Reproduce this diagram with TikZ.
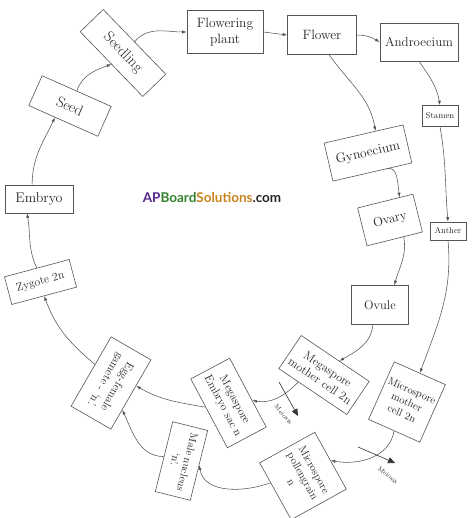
\documentclass[tikz,border=0pt]{standalone}
\usepackage{fontspec}
\newfontfamily\wmfont{Lato}
\usetikzlibrary{arrows.meta,calc}
\definecolor{lc}{RGB}{85,85,85}
\definecolor{wmpurple}{RGB}{88,40,140}
\definecolor{wmgreen}{RGB}{52,130,46}
\definecolor{wmorange}{RGB}{200,132,30}
\begin{document}
\begin{tikzpicture}[x=1pt,y=1pt,
 box/.style={draw=lc,line width=0.6pt,fill=white,inner sep=0pt,align=center,text=black!85},
 conn/.style={draw=lc,line width=0.55pt,-{Latex[length=4.5pt,width=3.2pt]}},
 meio/.style={draw=black!80,line width=0.6pt,-{Triangle[length=7pt,width=6pt]}},
 meiolabel/.style={inner sep=0pt,text=black!85,font=\fontsize{6.5}{7}\selectfont},
]
\useasboundingbox (0,0) rectangle (474,-518);
\fill[white] (0,0) rectangle (474,-518);

% nodes
\node[box,minimum width=76,minimum height=43,font=\fontsize{13.5}{15.5}\selectfont] (flowering) at (225,-32) {Flowering\\plant};
\node[box,minimum width=69,minimum height=39,font=\fontsize{13.5}{15.5}\selectfont] (flower) at (322,-35) {Flower};
\node[box,minimum width=78,minimum height=38,font=\fontsize{13}{15}\selectfont] (andro) at (419,-42) {Androecium};
\node[box,minimum width=36,minimum height=21,font=\fontsize{8.5}{10}\selectfont] (stamen) at (440,-116) {Stamen};
\node[box,minimum width=36,minimum height=18,font=\fontsize{8.5}{10}\selectfont] (anther) at (448,-231) {Anther};
\node[box,minimum width=81,minimum height=39,rotate=13,font=\fontsize{13.5}{15.5}\selectfont] (gyn) at (368,-153) {Gynoecium};
\node[box,minimum width=57,minimum height=39,rotate=14,font=\fontsize{13}{15}\selectfont] (ovary) at (390,-220) {Ovary};
\node[box,minimum width=57,minimum height=39,font=\fontsize{12.5}{14.5}\selectfont] (ovule) at (380,-305) {Ovule};
\node[box,minimum width=82,minimum height=40,rotate=-34,font=\fontsize{12}{14}\selectfont] (megamc) at (324,-375) {Megaspore\\mother cell 2n};
\node[box,minimum width=56,minimum height=63,rotate=-24,font=\fontsize{10.5}{12.5}\selectfont] (micromc) at (407,-402) {Microspore\\mother\\cell 2n};
\node[box,minimum width=65,minimum height=63,rotate=-61,font=\fontsize{11}{13}\selectfont] (pollen) at (303,-476) {Microspore\\pollengrain\\n};
\node[box,minimum width=78,minimum height=44,rotate=-62,font=\fontsize{11.5}{13.5}\selectfont] (sac) at (228.5,-403) {Megaspore\\Embryo sac n};
\node[box,minimum width=72,minimum height=36,rotate=-104,font=\fontsize{10.5}{12.5}\selectfont] (male) at (181.5,-461) {Male nucleus\\`n'.};
\node[box,minimum width=80,minimum height=46,rotate=-120,font=\fontsize{11.5}{13.5}\selectfont] (egg) at (111,-383) {Egg-female\\gamete - `n'.};
\node[box,minimum width=67,minimum height=28.6,rotate=15,font=\fontsize{11.5}{13.5}\selectfont] (zygote) at (40.5,-282) {Zygote 2n};
\node[box,minimum width=68,minimum height=28,font=\fontsize{14}{16}\selectfont] (embryo) at (39,-199) {Embryo};
\node[box,minimum width=75.6,minimum height=32.7,rotate=-24,font=\fontsize{15}{17}\selectfont] (seed) at (70,-106) {Seed};
\node[box,minimum width=90,minimum height=32,rotate=-46,font=\fontsize{15}{17}\selectfont] (seedling) at (123,-53) {Seedling};

% connectors
\draw[conn] (seed.north) to[out=70,in=200] (seedling.south);
\draw[conn] (seedling.north) to[out=50,in=180] (flowering.west);
\draw[conn] (flowering.east) -- (flower.west);
\draw[conn] (flower.east) to[out=0,in=150] (andro.west);
\draw[conn] (flower.-70) to[out=-55,in=100] ($(gyn.north west)!0.65!(gyn.north east)$);
\draw[conn] (andro.south) to[out=-55,in=100] (stamen.north);
\draw[conn] (stamen.south) to[out=-80,in=95] (anther.north);
\draw[conn] (anther.south) to[out=-85,in=70] (micromc.north);
\draw[conn] ($(gyn.south west)!0.68!(gyn.south east)$) to[out=20,in=100] ($(ovary.north west)!0.76!(ovary.north east)$);
\draw[conn] ($(ovary.south west)!0.66!(ovary.south east)$) to[out=-80,in=75] ($(ovule.north)!0.5!(ovule.north east)$);
\draw[conn] ($(ovule.south)!0.25!(ovule.south west)$) to[out=-95,in=30] ($(megamc.north west)!0.56!(megamc.north east)$);
\draw[conn] ($(megamc.south west)!0.29!(megamc.south east)$) to[out=-135,in=-10] ($(sac.north west)!0.615!(sac.north east)$);
\draw[conn] (micromc.south) to[out=-100,in=-10] (pollen.north);
\draw[conn] ($(pollen.south west)!0.35!(pollen.south east)$) to[out=-160,in=-80] (male.north);
\draw[conn] ($(sac.south west)!0.41!(sac.south east)$) to[out=170,in=-30] ($(egg.north west)!0.375!(egg.north east)$);
\draw[conn] (male.south) to[out=180,in=-65] ($(egg.north west)!0.72!(egg.north east)$);
\draw[conn] ($(egg.south west)!0.4!(egg.south east)$) to[out=140,in=-70] (zygote.south);
\draw[conn] (zygote.north) to[out=115,in=-80] ($(embryo.south)!0.35!(embryo.south west)$);
\draw[conn] ($(embryo.north)!0.2!(embryo.north west)$) to[out=90,in=-115] ($(seed.south west)!0.38!(seed.south east)$);

% meiosis arrows
\coordinate (m1a) at (279,-382);
\coordinate (m1b) at (298,-416);
\draw[meio] (m1a) -- (m1b);
\node[meiolabel,rotate=-49] (m1lab) at (283.5,-414.5) {Meiosis};
\coordinate (m2a) at (358,-447);
\coordinate (m2b) at (395,-463);
\draw[meio] (m2a) -- (m2b);
\node[meiolabel,rotate=-40] (m2lab) at (388,-475) {Meiosis};

% watermark
\node[inner sep=0pt,font=\wmfont\bfseries\fontsize{13.5}{15}\selectfont] (wm) at (212,-198)
 {\textcolor{wmpurple}{AP}\textcolor{wmgreen}{Board}\textcolor{wmorange}{Solutions}\textcolor{black!85}{.com}};
\end{tikzpicture}
\end{document}
